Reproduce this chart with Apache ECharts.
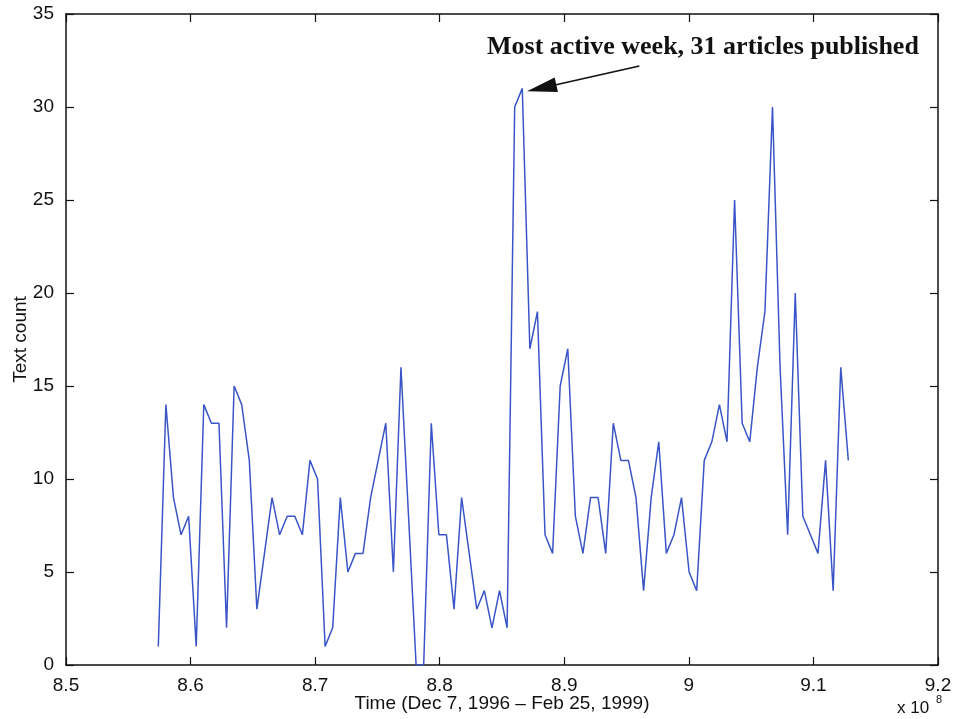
<!DOCTYPE html>
<html>
<head>
<meta charset="utf-8">
<script src="https://cdn.jsdelivr.net/npm/echarts@6/dist/echarts.min.js"></script>
<style>
  html, body { margin: 0; padding: 0; background: #fff; }
  #chart { width: 962px; height: 719px; }
</style>
</head>
<body>
<div id="chart"></div>
<script>
// Weekly number of articles published
const counts = [
  1, 14, 9, 7, 8, 1, 14, 13, 13, 2,
  15, 14, 11, 3, 6, 9, 7, 8, 8, 7,
  11, 10, 1, 2, 9, 5, 6, 6, 9, 11,
  13, 5, 16, 8, 0, 0, 13, 7, 7, 3,
  9, 6, 3, 4, 2, 4, 2, 30, 31, 17,
  19, 7, 6, 15, 17, 8, 6, 9, 9, 6,
  13, 11, 11, 9, 4, 9, 12, 6, 7, 9,
  5, 4, 11, 12, 14, 12, 25, 13, 12, 16,
  19, 30, 16, 7, 20, 8, 7, 6, 11, 4,
  16, 11
];
// Time stamps (seconds) of the first bin and the bin width
const startTime = 857410000;
const stepSec = 608700;

// Axis ranges
const xMin = 850000000, xMax = 920000000, xStep = 10000000;
const yMin = 0, yMax = 35, yStep = 5;

const xLabel = 'Time (Dec 7, 1996 \u2013 Feb 25, 1999)';
const yLabel = 'Text count';
const note = 'Most active week, 31 articles published';

const points = counts.map((c, i) => [startTime + i * stepSec, c]);

// Peak week, pointed at by the annotation arrow
let peakIdx = 0;
counts.forEach((c, i) => { if (c > counts[peakIdx]) peakIdx = i; });
const peak = points[peakIdx];

const sansFont = '"Liberation Sans", Arial, Helvetica, sans-serif';
const serifFont = '"Liberation Serif", "Times New Roman", serif';

const tickFmt = v => String(+(v / 1e8).toFixed(1));

const baseX = {
  type: 'value', min: xMin, max: xMax, interval: xStep,
  axisLine: { show: true, onZero: false, lineStyle: { color: '#111', width: 1.5 } },
  axisTick: { show: true, inside: true, length: 8, lineStyle: { color: '#111', width: 1.2 } },
  splitLine: { show: false }
};
const baseY = {
  type: 'value', min: yMin, max: yMax, interval: yStep,
  axisLine: { show: true, onZero: false, lineStyle: { color: '#111', width: 1.5 } },
  axisTick: { show: true, inside: true, length: 8, lineStyle: { color: '#111', width: 1.2 } },
  splitLine: { show: false }
};

const chart = echarts.init(document.getElementById('chart'));
chart.setOption({
  animation: false,
  backgroundColor: '#fff',
  grid: { left: 66, right: 24, top: 14, bottom: 54, outerBoundsMode: 'none', containLabel: false },
  xAxis: [
    Object.assign({}, baseX, {
      position: 'bottom',
      axisLabel: { show: true, formatter: tickFmt, margin: 11, color: '#111', fontSize: 19, fontFamily: sansFont,
        showMinLabel: true, showMaxLabel: true },
      name: xLabel, nameLocation: 'middle', nameGap: 29, nameMoveOverlap: false,
      nameTextStyle: { color: '#111', fontSize: 19, fontFamily: sansFont }
    }),
    Object.assign({}, baseX, { position: 'top', axisLabel: { show: false } })
  ],
  yAxis: [
    Object.assign({}, baseY, {
      position: 'left',
      axisLabel: { show: true, margin: 12, color: '#111', fontSize: 19, fontFamily: sansFont,
        showMinLabel: true, showMaxLabel: true },
      name: yLabel, nameLocation: 'middle', nameGap: 36, nameMoveOverlap: false,
      nameTextStyle: { color: '#111', fontSize: 19, fontFamily: sansFont }
    }),
    Object.assign({}, baseY, { position: 'right', axisLabel: { show: false } })
  ],
  series: [{
    type: 'line',
    data: points,
    xAxisIndex: 0, yAxisIndex: 0,
    showSymbol: false,
    lineStyle: { color: '#3a55c8', width: 1.5 },
    markLine: {
      silent: true,
      animation: false,
      label: { show: false },
      lineStyle: { color: '#111', width: 1.6, type: 'solid' },
      data: [[
        // tail below the note, head centred half an arrow length away from the peak
        { coord: [peak[0] + 9400000, peak[1] + 1.2], symbol: 'none' },
        { coord: [peak[0] + 1557000, peak[1] + 0.02], symbol: 'triangle', symbolSize: [15, 30] }
      ]]
    }
  }],
  graphic: [
    {
      type: 'text', left: 487, top: 34, silent: true,
      style: { text: note, font: 'bold 26px ' + serifFont, fill: '#111' }
    },
    {
      type: 'text', left: 897, top: 700, silent: true,
      style: { text: 'x 10', font: '17px ' + sansFont, fill: '#111' }
    },
    {
      type: 'text', left: 936, top: 694, silent: true,
      style: { text: '8', font: '11px ' + sansFont, fill: '#111' }
    }
  ]
});
</script>
</body>
</html>
